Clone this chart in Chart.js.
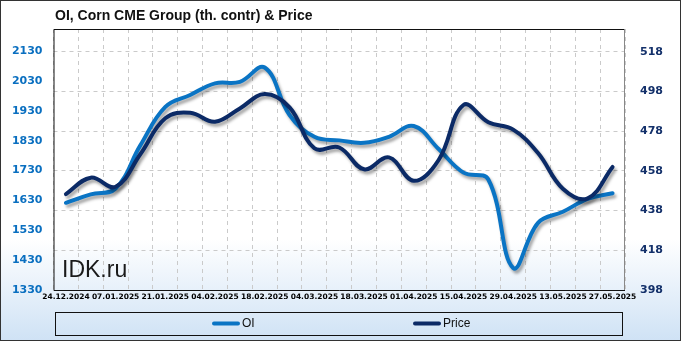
<!DOCTYPE html>
<html>
<head>
<meta charset="utf-8">
<script src="https://cdn.jsdelivr.net/npm/chart.js@4"></script>
<style>
  body { margin: 0; background: #fff; }
  #wrap { width: 681px; height: 341px; position: relative; }
</style>
</head>
<body>
<div id="wrap"><canvas id="oiChart"></canvas></div>
<script>
// Weekly dates (category axis)
const dates = [
  '24.12.2024', '31.12.2024', '07.01.2025', '14.01.2025', '21.01.2025', '28.01.2025',
  '04.02.2025', '11.02.2025', '18.02.2025', '25.02.2025', '04.03.2025', '11.03.2025',
  '18.03.2025', '25.03.2025', '01.04.2025', '08.04.2025', '15.04.2025', '22.04.2025',
  '29.04.2025', '06.05.2025', '13.05.2025', '20.05.2025', '27.05.2025'
];

// Open interest, th. contracts (left axis)
const oiValues = [
  1622, 1650, 1670, 1815, 1943, 1983, 2022, 2027, 2075, 1916, 1843, 1831,
  1823, 1843, 1879, 1802, 1723, 1700, 1404, 1555, 1592, 1635, 1654
];

// Price (right axis)
const priceValues = [
  446.3, 454.6, 450, 466.5, 484.5, 487.3, 482.8, 489.5, 496.7, 490, 469.4, 469.8,
  458.8, 464.8, 453, 463.5, 491.2, 482.5, 478.8, 467, 449, 444.2, 460
];

// Tick labels
const oiTicks = [1330, 1430, 1530, 1630, 1730, 1830, 1930, 2030, 2130];
const priceTicks = [398, 418, 438, 458, 478, 498, 518];

const titleText = 'OI, Corn CME Group (th. contr) & Price';
const oiColor = '#0a74c4';
const priceColor = '#0b2a66';

// Background gradient + frames, title, watermark, legend
const backgroundPlugin = {
  id: 'background',
  beforeDraw(chart) {
    const c = chart.ctx;
    const g = c.createLinearGradient(0, 0, 0, chart.height);
    g.addColorStop(0, '#ffffff');
    g.addColorStop(0.7, '#ffffff');
    g.addColorStop(1, '#cfe2f5');
    c.save();
    c.fillStyle = g;
    c.fillRect(0, 0, chart.width, chart.height);
    c.restore();
  },
  afterDraw(chart) {
    const c = chart.ctx;
    const a = chart.chartArea;
    c.save();
    // plot frame
    c.lineWidth = 1;
    c.strokeStyle = '#111';
    c.beginPath();
    c.moveTo(a.right, a.top + 0.5);
    c.lineTo(a.left + 0.5, a.top + 0.5);
    c.lineTo(a.left + 0.5, a.bottom + 0.5);
    c.lineTo(a.right, a.bottom + 0.5);
    c.stroke();
    c.strokeStyle = '#888';
    c.beginPath();
    c.moveTo(a.right - 0.5, a.top);
    c.lineTo(a.right - 0.5, a.bottom);
    c.stroke();
    // outer frame
    c.strokeStyle = '#333';
    c.strokeRect(0.5, 0.5, chart.width - 1, chart.height - 1);

    // title
    c.fillStyle = '#111';
    c.font = 'bold 14px "Liberation Sans", Arial, sans-serif';
    c.textBaseline = 'alphabetic';
    c.textAlign = 'left';
    c.fillText(titleText, 55, 20);

    // watermark
    c.font = '23px "Liberation Sans", Arial, sans-serif';
    c.fillStyle = '#1a1a1a';
    c.fillText('IDK.ru', 62, 277);

    // legend box
    c.strokeStyle = '#111';
    c.strokeRect(55.5, 312.5, 567, 23);
    const items = [
      { label: chart.data.datasets[1].label, color: oiColor, x: 212 },
      { label: chart.data.datasets[0].label, color: priceColor, x: 413 }
    ];
    c.font = '12px "Liberation Sans", Arial, sans-serif';
    c.textBaseline = 'middle';
    items.forEach(it => {
      c.strokeStyle = it.color;
      c.lineWidth = 4;
      c.lineCap = 'round';
      c.beginPath();
      c.moveTo(it.x + 2, 323.5);
      c.lineTo(it.x + 26, 323.5);
      c.stroke();
      c.fillStyle = '#111';
      c.fillText(it.label, it.x + 30, 324);
    });
    c.restore();
  }
};

// Soft drop shadow under the lines
const shadowPlugin = {
  id: 'shadow',
  beforeDatasetDraw(chart) {
    const c = chart.ctx;
    c.save();
    c.shadowColor = 'rgba(0, 0, 0, 0.35)';
    c.shadowBlur = 3;
    c.shadowOffsetX = 2;
    c.shadowOffsetY = 3;
  },
  afterDatasetDraw(chart) {
    chart.ctx.restore();
  }
};

const ctx = document.getElementById('oiChart').getContext('2d');
new Chart(ctx, {
  type: 'line',
  data: {
    labels: dates,
    datasets: [
      {
        label: 'Price',
        data: priceValues,
        yAxisID: 'y1',
        borderColor: priceColor,
        backgroundColor: priceColor,
        borderWidth: 4,
        pointRadius: 0,
        tension: 0.4,
        borderCapStyle: 'round',
        order: 0
      },
      {
        label: 'OI',
        data: oiValues,
        yAxisID: 'y',
        borderColor: oiColor,
        backgroundColor: oiColor,
        borderWidth: 4,
        pointRadius: 0,
        tension: 0.4,
        borderCapStyle: 'round',
        order: 1
      }
    ]
  },
  options: {
    responsive: true,
    maintainAspectRatio: false,
    animation: false,
    layout: { padding: { top: 29, left: 0, right: 0, bottom: 0 } },
    plugins: {
      legend: { display: false },
      tooltip: { enabled: false },
      title: { display: false }
    },
    scales: {
      x: {
        offset: true,
        grid: { offset: true, color: '#cacaca', drawTicks: false },
        border: { display: false, dash: [4, 4] },
        ticks: {
          autoSkip: false,
          maxRotation: 0,
          padding: 3,
          color: '#000',
          font: { family: '"DejaVu Sans", Verdana, sans-serif', size: 7.5, weight: 'bold' },
          callback: (v, i) => (i % 2 === 0 ? dates[i] : '')
        },
        afterFit: s => { s.height = 51; }
      },
      y: {
        position: 'left',
        min: 1330,
        max: 2204,
        grid: { display: false, drawTicks: false },
        border: { display: false },
        afterBuildTicks: s => { s.ticks = oiTicks.map(v => ({ value: v })); },
        ticks: {
          padding: 11,
          color: '#0a6fc0',
          font: { family: '"DejaVu Sans", Verdana, sans-serif', size: 11, weight: 'bold' },
          callback: v => String(v)
        },
        afterFit: s => { s.width = 53.5; }
      },
      y1: {
        position: 'right',
        min: 398,
        max: 529.5,
        grid: { color: '#cacaca', drawTicks: false },
        border: { display: false, dash: [4, 4] },
        afterBuildTicks: s => { s.ticks = priceTicks.map(v => ({ value: v })); },
        ticks: {
          padding: 15,
          color: '#13306a',
          font: { family: '"DejaVu Sans", Verdana, sans-serif', size: 11, weight: 'bold' },
          callback: v => String(v)
        },
        afterFit: s => { s.width = 56; }
      }
    }
  },
  plugins: [backgroundPlugin, shadowPlugin]
});
</script>
</body>
</html>
